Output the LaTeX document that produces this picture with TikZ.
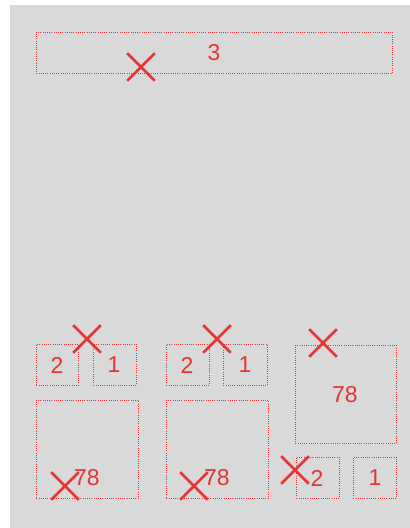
\documentclass[tikz,border=0pt]{standalone}
\usepackage{fontspec}
\setmainfont{Liberation Sans}
\usetikzlibrary{shapes.misc}
\definecolor{bg}{RGB}{217,217,217}
\definecolor{rd}{RGB}{229,52,52}
\begin{document}
\begin{tikzpicture}[x=1pt,y=-1pt,
  box/.style={draw=rd, line width=0.9pt, dash pattern=on 1pt off 1.2pt, inner sep=0pt, anchor=north west},
  lbl/.style={text=rd, font=\fontsize{23}{23}\selectfont, inner sep=0pt},
  xmark/.style={cross out, draw=rd, line width=2.6pt, minimum size=25pt, inner sep=0pt}]
\useasboundingbox (0,0) rectangle (410,528);
\fill[white] (0,0) rectangle (410,528);
\fill[bg] (10,5) rectangle (410,528);
% top
\node[box, minimum width=356pt, minimum height=41pt] (top) at (36,32) {};
\node[lbl] (t3) at (214,53) {3};
\node[xmark] (x0) at (141,67) {};
% group 1
\node[box, minimum width=42pt, minimum height=41pt] (a2) at (36,344) {};
\node[lbl] (a2l) at (57,365) {2};
\node[box, minimum width=43pt, minimum height=41pt] (a1) at (93,344) {};
\node[lbl] (a1l) at (114,365) {1};
\node[xmark] (x1) at (87,339) {};
\node[box, minimum width=102pt, minimum height=98pt] (a78) at (36,400) {};
\node[lbl] (a78l) at (87,478) {78};
\node[xmark] (x2) at (65,486) {};
% group 2
\node[box, minimum width=43pt, minimum height=41pt] (b2) at (166,344) {};
\node[lbl] (b2l) at (187,365) {2};
\node[box, minimum width=44pt, minimum height=41pt] (b1) at (223,344) {};
\node[lbl] (b1l) at (245,365) {1};
\node[xmark] (x3) at (217,339) {};
\node[box, minimum width=102pt, minimum height=98pt] (b78) at (166,400) {};
\node[lbl] (b78l) at (217,478) {78};
\node[xmark] (x4) at (194,486) {};
% group 3
\node[box, minimum width=101pt, minimum height=98pt] (c78) at (295,345) {};
\node[lbl] (c78l) at (345,395) {78};
\node[xmark] (x5) at (323,343) {};
\node[box, minimum width=43pt, minimum height=41pt] (c2) at (296,457) {};
\node[lbl] (c2l) at (317,478) {2};
\node[box, minimum width=43pt, minimum height=41pt] (c1) at (353,457) {};
\node[lbl] (c1l) at (375,478) {1};
\node[xmark] (x6) at (295,470) {};
\end{tikzpicture}
\end{document}
